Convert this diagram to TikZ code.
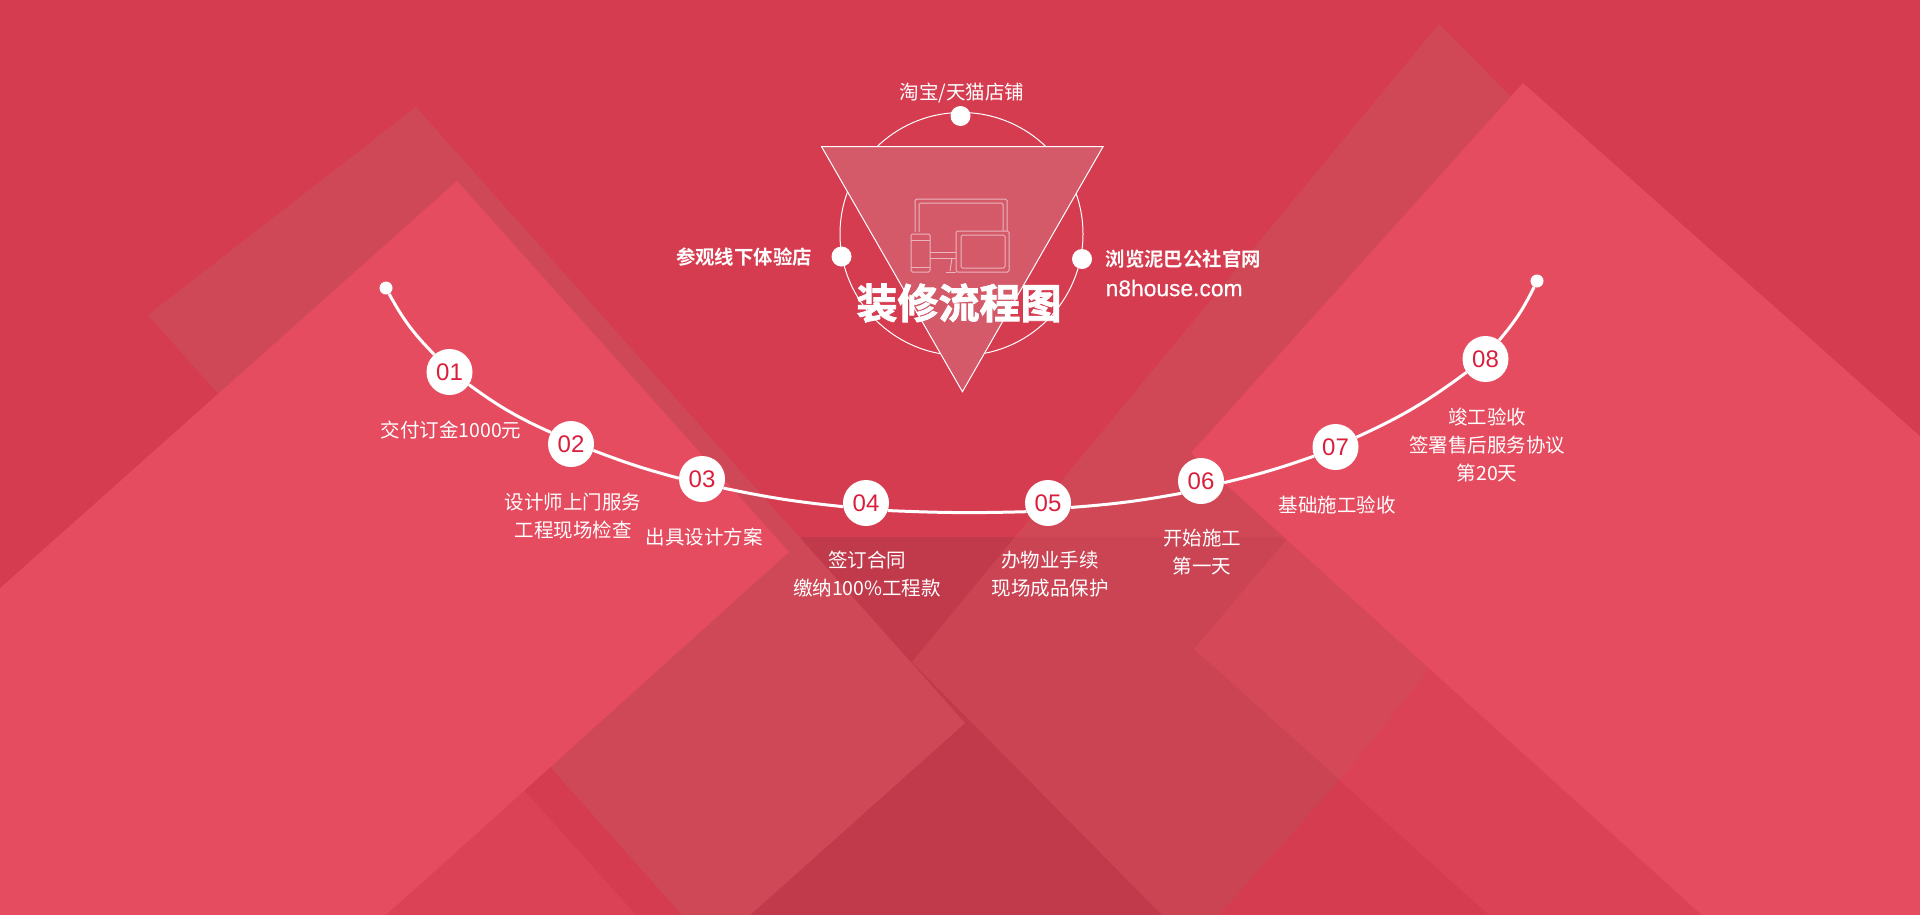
\documentclass[tikz,border=0pt]{standalone}
\usepackage{fontspec}
\setmainfont{Liberation Sans}
\newfontfamily\cjk[BoldFont={Noto Sans CJK SC Bold}]{Noto Sans CJK SC}
\newfontfamily\cjkheavy[FakeBold=2]{Noto Sans CJK SC Bold}
\newfontfamily\sitefont[FakeBold=0.4]{Liberation Sans}
\usepackage{tikz}
\usetikzlibrary{positioning}
\definecolor{bgred}{HTML}{D63C50}
\definecolor{bandred}{HTML}{DC4256}
\definecolor{brightred}{HTML}{E64C5F}
\definecolor{greyleft}{HTML}{CF4858}
\definecolor{greyright}{HTML}{D04756}
\definecolor{greyband}{HTML}{D44858}
\definecolor{greydark}{HTML}{CA4454}
\definecolor{darkred}{HTML}{C03A4B}
\definecolor{trifill}{HTML}{D45A6A}
\definecolor{iconline}{HTML}{EBB4BC}
\definecolor{numred}{HTML}{D91F3D}
\tikzstyle{num} = [circle, fill=white, inner sep=0pt, minimum size=46pt, text=numred, font=\fontsize{24}{24}\selectfont]
\tikzstyle{enddot} = [circle, fill=white, inner sep=0pt, minimum size=13pt]
\tikzstyle{bigdot} = [circle, fill=white, inner sep=0pt, minimum size=20pt]
\tikzstyle{caption} = [text=white, align=center, inner sep=0pt, font=\cjk\fontsize{19.5}{28}\selectfont]
\tikzstyle{boldcaption} = [text=white, inner sep=0pt, font=\cjk\bfseries\fontsize{19.4}{24}\selectfont]
\tikzstyle{curveline} = [draw=white, line width=3pt]
\tikzstyle{icon} = [draw=iconline, line width=1pt, rounded corners=1.5pt]

\begin{document}
\begin{tikzpicture}[x=1pt, y=-1pt]
\useasboundingbox (0,0) rectangle (1920,914);
\clip (0,0) rectangle (1920,914);

\fill [bgred] (-2,-2) rectangle (1922,916);
\fill [bandred] (386,916) -- (523,789) -- (637,916) -- cycle;
\fill [bandred] (1194,649) -- (1300,524) -- (1722,916) -- (1490,916) -- cycle;
\fill [darkred] (802,537) -- (1200,537) -- (1200,916) -- (700,916) -- cycle;

\fill [greyleft] (416,107) -- (148,315) -- (683,916) -- (749,916) -- (965,723) -- cycle;
\fill [greyright] (1439,24) -- (1015,537) -- (1289,537) -- (1194,649) -- (1340,780) -- (1431,667) -- (1720,308) -- cycle;
\fill [greydark] (1015,537) -- (1289,537) -- (1194,649) -- (1340,780) -- (1218,916) -- (1163,916) -- (912,662) -- cycle;
\fill [greyband] (1194,649) -- (1288,538) -- (1431,667) -- (1340,780) -- cycle;

\fill [brightred] (457,181) -- (-2,590) -- (-2,916) -- (385,916) -- (789,552) -- cycle;
\fill [brightred] (1523,83) -- (1191,453) -- (1703,916) -- (1922,916) -- (1922,438) -- cycle;

\node (ring) [circle, draw=white, line width=1pt, inner sep=0pt, minimum size=243pt] at (961.5,234) {};
\filldraw [fill=trifill, draw=white, line width=1pt] (821.6,146.7) -- (1103,146.7) -- (962.4,391.7) -- cycle;

\draw [icon] (915,232) -- (915,199) -- (1007,199) -- (1007,231);
\draw [icon] (919,232) -- (919,203) -- (1003,203) -- (1003,231);
\draw [icon] (911,234) rectangle (930,272);
\draw [icon] (911,240) -- (930,240);
\draw [icon] (911,267) -- (930,267);
\draw [icon] (956,231) rectangle (1009,272);
\draw [icon] (961,235) rectangle (1005,268);
\draw [icon] (930,252) -- (956,252);
\draw [icon] (930,258) -- (956,258);
\draw [icon] (952,258) -- (950,271);
\draw [icon] (946,272) -- (956,272);

\node (dotTop) [bigdot] at (960.5,116) {};
\node (dotLeft) [bigdot] at (841.5,256.5) {};
\node (dotRight) [bigdot] at (1082,259) {};

\node (txtTop) [caption] at (962,93) {淘宝/天猫店铺};
\node (txtLeft) [boldcaption, anchor=east] at (812,257) {参观线下体验店};
\node (txtRight) [boldcaption, anchor=west] at (1105.5,259) {浏览泥巴公社官网};
\node (txtSite) [text=white, inner sep=0pt, anchor=west, font=\sitefont\fontsize{22.8}{24}\selectfont] at (1105.5,288) {n8house.com};
\node (title) [text=white, inner sep=0pt, font=\cjkheavy\fontsize{41}{44}\selectfont] at (959,303) {装修流程图};

\node (start) [enddot] at (386,288) {};
\node (n01) [num] at (449.5,372) {01};
\node (n02) [num] at (571,444) {02};
\node (n03) [num] at (702,479) {03};
\node (n04) [num] at (866,503) {04};
\node (n05) [num] at (1048,503) {05};
\node (n06) [num] at (1201,481) {06};
\node (n07) [num] at (1335.5,447) {07};
\node (n08) [num] at (1485.5,359) {08};
\node (end) [enddot] at (1537,281) {};

\draw [curveline] (start) to[bend right=8] (n01.131);
\draw [curveline] (n01.-33) to[bend right=6] (n02.150);
\draw [curveline] (n02.-16) to[bend right=3] (n03.178);
\draw [curveline] (n03.-23) to[bend right=3] (n04.189);
\draw [curveline] (n04.-19) to[bend right=2] (n05.202);
\draw [curveline] (n05.-11) to[bend right=3] (n06.212);
\draw [curveline] (n06.-4) to[bend right=3] (n07.203);
\draw [curveline] (n07.25) to[bend right=6] (n08.215);
\draw [curveline] (n08.54) to[bend right=7] (end);

\node (lab01) [caption] at (451,430) {交付订金1000元};
\node (lab02) [caption] at (573,516) {设计师上门服务\\工程现场检查};
\node (lab03) [caption] at (704,537) {出具设计方案};
\node (lab04) [caption] at (867,574) {签订合同\\缴纳100\%工程款};
\node (lab05) [caption] at (1050,574) {办物业手续\\现场成品保护};
\node (lab06) [caption] at (1202,552) {开始施工\\第一天};
\node (lab07) [caption] at (1337,505) {基础施工验收};
\node (lab08) [caption] at (1487,445) {竣工验收\\签署售后服务协议\\第20天};
\end{tikzpicture}
\end{document}
